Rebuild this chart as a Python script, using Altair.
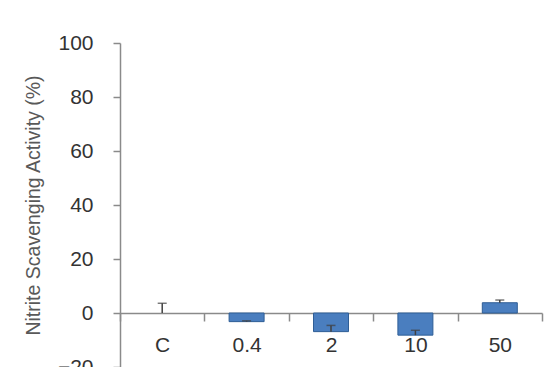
import altair as alt
import pandas as pd

categories = ["C", "0.4", "2", "10", "50"]
values = [0.0, -3.2, -6.9, -8.2, 3.8]
errors = [3.6, 0.3, 2.3, 1.8, 1.0]
y_title = "Nitrite Scavenging Activity (%)"

df = pd.DataFrame({
    "cat": categories,
    "val": values,
    "err": errors,
})
df["top"] = df["val"] + df["err"]

FONT = "Liberation Sans"
x_enc = alt.X("cat:N", sort=categories, title=None,
              scale=alt.Scale(paddingInner=0, paddingOuter=0),
              axis=alt.Axis(orient="bottom", offset=-54, labelAngle=0,
                            tickBand="extent", tickSize=8, tickWidth=1.5,
                            tickColor="#8a8a8a", domainColor="#8a8a8a",
                            domainWidth=1.5, labelFont=FONT, labelFontSize=21,
                            labelColor="#333333", labelPadding=13))
y_scale = alt.Scale(domain=[-20, 100], nice=False, zero=False)

bars = alt.Chart(df).mark_bar(size=35, color="#4a7ebf", stroke="#2f5e96",
                              strokeWidth=1).encode(
    x=x_enc,
    y=alt.Y("val:Q", scale=y_scale, title=y_title,
            axis=alt.Axis(values=[-20, 0, 20, 40, 60, 80, 100], grid=False,
                          tickSize=7, tickWidth=1.5, tickColor="#8a8a8a",
                          domainColor="#8a8a8a", domainWidth=1.5,
                          labelFont=FONT, labelFontSize=21, labelColor="#333333",
                          labelPadding=20, titleFont=FONT, titleFontSize=19.5,
                          titleFontWeight="normal", titleColor="#595959",
                          titlePadding=14)),
    y2=alt.Y2(datum=0),
    opacity=alt.condition("datum.val == 0", alt.value(0), alt.value(1)),
)

rules = alt.Chart(df).mark_rule(color="#404040", strokeWidth=1.5).encode(
    x=alt.X("cat:N", sort=categories),
    y=alt.Y("val:Q", scale=y_scale),
    y2="top:Q",
)

caps = alt.Chart(df).mark_tick(color="#404040", size=9, thickness=1.5).encode(
    x=alt.X("cat:N", sort=categories),
    y=alt.Y("top:Q", scale=y_scale),
)

chart = alt.layer(bars, rules, caps).properties(
    width=422, height=324,
    autosize=alt.AutoSizeParams(type="none"),
    padding={"left": 120, "top": 43, "right": 18, "bottom": 0},
).configure(background="white").configure_view(stroke=None)

chart.save("out.html", embed_options={"renderer": "svg", "actions": False})
